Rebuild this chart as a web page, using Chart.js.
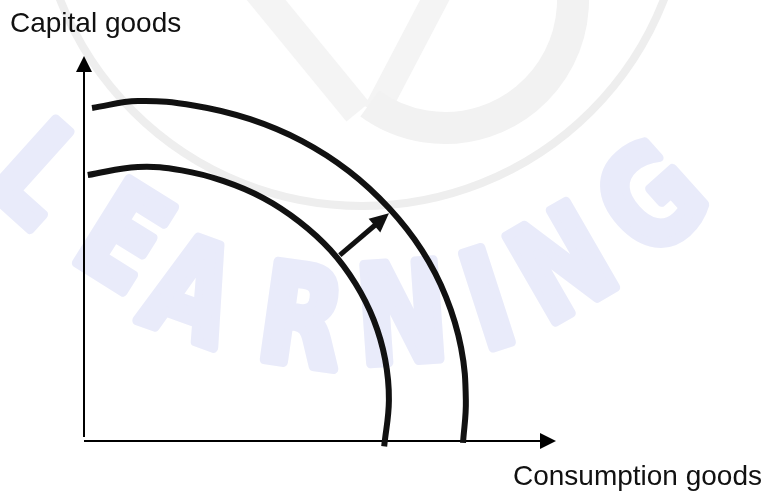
<!DOCTYPE html>
<html>
<head>
<meta charset="utf-8">
<script src="https://cdn.jsdelivr.net/npm/chart.js@4.4.0/dist/chart.umd.min.js"></script>
<style>
html, body { margin: 0; padding: 0; background: #fff; }
</style>
</head>
<body>
<canvas id="ppf" width="766" height="495"></canvas>
<script>
// frontier points, 0-10 units on both axes
const innerX = [0.08, 1.14, 2.07, 2.96, 3.80, 4.56, 5.22, 5.75, 6.14, 6.38, 6.46, 6.36]
const innerY = [6.91, 7.12, 7.03, 6.75, 6.31, 5.70, 4.96, 4.09, 3.14, 2.12, 1.06, -0.14]
const outerX = [0.17, 1.14, 2.35, 3.52, 4.62, 5.61, 6.46, 7.16, 7.67, 7.99, 8.09, 8.03]
const outerY = [8.65, 8.83, 8.71, 8.36, 7.79, 7.01, 6.05, 4.95, 3.74, 2.42, 1.06, -0.05]
// outward shift arrow (tail, base of head)
const shiftX = [5.42, 6.17]
const shiftY = [4.83, 5.61]
const yLabel = 'Capital goods'
const xLabel = 'Consumption goods'
const watermark = 'LEARNING'

function toPoints(xs, ys) {
    return xs.map((x, i) => ({x: x, y: ys[i]}))
}

function arrowHead(ctx, fx, fy, tx, ty, len, half) {
    let a = Math.atan2(ty - fy, tx - fx)
    let c = Math.cos(a), s = Math.sin(a)
    ctx.beginPath()
    ctx.moveTo(tx, ty)
    ctx.lineTo(tx - len * c + half * s, ty - len * s - half * c)
    ctx.lineTo(tx - len * c - half * s, ty - len * s + half * c)
    ctx.closePath()
    ctx.fill()
}

const extras = {
    id: 'extras',
    beforeDraw(chart) {
        const ctx = chart.ctx
        ctx.save()
        ctx.fillStyle = '#fff'
        ctx.fillRect(0, 0, chart.width, chart.height)

        // faint logo behind everything
        ctx.strokeStyle = '#eeeeee'
        ctx.lineWidth = 8
        ctx.beginPath()
        ctx.arc(362, -118, 324, 0, Math.PI)
        ctx.stroke()
        ctx.strokeStyle = '#f4f4f4'
        ctx.lineWidth = 30
        ctx.lineCap = 'butt'
        ctx.beginPath()
        ctx.moveTo(258, -10)
        ctx.lineTo(358, 112)
        ctx.stroke()
        ctx.lineWidth = 26
        ctx.beginPath()
        ctx.moveTo(440, -10)
        ctx.lineTo(376, 112)
        ctx.stroke()
        ctx.strokeStyle = '#f2f2f2'
        ctx.lineWidth = 32
        ctx.beginPath()
        ctx.arc(445, 0, 128, -0.1 * Math.PI, 0.7 * Math.PI)
        ctx.stroke()

        // watermark letters on an arc
        const spots = [
            [40, 172, 42], [125, 235, 32], [192, 288, 20], [302, 315, 8],
            [402, 312, -4], [487, 298, -18], [561, 262, -30], [650, 197, -42]
        ]
        ctx.fillStyle = '#e9ebfa'
        ctx.strokeStyle = '#e9ebfa'
        ctx.lineWidth = 10
        ctx.lineJoin = 'round'
        ctx.font = 'bold 135px "DejaVu Sans"'
        ctx.textAlign = 'center'
        ctx.textBaseline = 'alphabetic'
        watermark.split('').forEach((ch, i) => {
            let p = spots[i]
            ctx.save()
            ctx.translate(p[0], p[1])
            ctx.rotate(p[2] * Math.PI / 180)
            ctx.scale(0.8, 1)
            ctx.fillText(ch, 0, 49)
            ctx.strokeText(ch, 0, 49)
            ctx.restore()
        })
        ctx.restore()
    },
    beforeDatasetsDraw(chart) {
        const ctx = chart.ctx
        const xs = chart.scales.x, ys = chart.scales.y
        let x0 = xs.getPixelForValue(0), x1 = xs.getPixelForValue(xs.max)
        let y0 = ys.getPixelForValue(0), y1 = ys.getPixelForValue(ys.max)
        ctx.save()
        ctx.strokeStyle = '#000'
        ctx.fillStyle = '#000'
        ctx.lineWidth = 2
        ctx.beginPath()
        ctx.moveTo(x0, y0 - 4)
        ctx.lineTo(x0, y1 + 10)
        ctx.moveTo(x0, y0)
        ctx.lineTo(x1 - 10, y0)
        ctx.stroke()
        arrowHead(ctx, x0, y0, x0, y1, 16, 8)
        arrowHead(ctx, x0, y0, x1, y0, 16, 8)

        ctx.fillStyle = '#111'
        ctx.font = '28px "Liberation Sans"'
        ctx.textBaseline = 'alphabetic'
        ctx.textAlign = 'left'
        ctx.fillText(yLabel, 10, 32)
        ctx.textAlign = 'right'
        ctx.fillText(xLabel, 762, 485)
        ctx.restore()
    },
    afterDatasetsDraw(chart) {
        const ctx = chart.ctx
        const pts = chart.getDatasetMeta(2).data
        let a = pts[0], b = pts[pts.length - 1]
        let d = Math.hypot(b.x - a.x, b.y - a.y)
        let tx = b.x + (b.x - a.x) / d * 18
        let ty = b.y + (b.y - a.y) / d * 18
        ctx.save()
        ctx.fillStyle = '#111'
        arrowHead(ctx, a.x, a.y, tx, ty, 19, 9)
        ctx.restore()
    }
}

new Chart(document.getElementById('ppf'), {
    type: 'scatter',
    data: {
        datasets: [{
            data: toPoints(outerX, outerY),
            showLine: true,
            borderColor: '#111',
            borderWidth: 6,
            tension: 0.4,
            pointRadius: 0,
            clip: false
        }, {
            data: toPoints(innerX, innerY),
            showLine: true,
            borderColor: '#111',
            borderWidth: 6,
            tension: 0.4,
            pointRadius: 0,
            clip: false
        }, {
            data: toPoints(shiftX, shiftY),
            showLine: true,
            borderColor: '#111',
            borderWidth: 5,
            pointRadius: 0,
            clip: false
        }]
    },
    options: {
        responsive: false,
        animation: false,
        devicePixelRatio: 1,
        layout: {padding: {left: 84, right: 210, top: 56, bottom: 54}},
        scales: {
            x: {type: 'linear', min: 0, max: 10, display: false},
            y: {type: 'linear', min: 0, max: 10, display: false}
        },
        plugins: {
            legend: {display: false},
            tooltip: {enabled: false}
        }
    },
    plugins: [extras]
})
</script>
</body>
</html>
